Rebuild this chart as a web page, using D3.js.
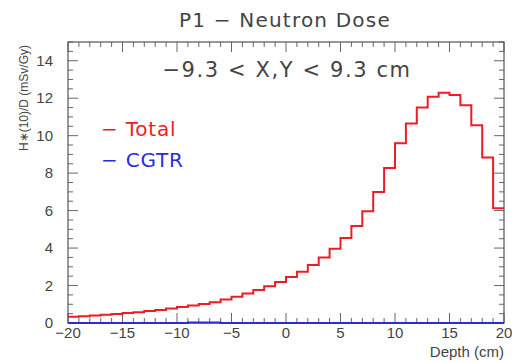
<!DOCTYPE html>
<html>
<head>
<meta charset="utf-8">
<script src="https://cdn.jsdelivr.net/npm/d3@7"></script>
<style>
  body { margin: 0; background: #fff; }
  text { font-family: "Liberation Sans", "DejaVu Sans", sans-serif; fill: #444; }
  .wide { font-family: "DejaVu Sans", sans-serif; }
</style>
</head>
<body>
<div id="chart"></div>
<script>
// bin lower edges (cm), 1 cm wide
const binEdges = d3.range(-20, 20);
const totalDose = [0.33, 0.36, 0.40, 0.44, 0.48, 0.53, 0.58, 0.64, 0.70, 0.77,
                   0.85, 0.93, 1.02, 1.11, 1.25, 1.40, 1.57, 1.76, 1.96, 2.19,
                   2.45, 2.74, 3.09, 3.49, 3.97, 4.54, 5.18, 5.96, 6.99, 8.27,
                   9.59, 10.65, 11.51, 12.08, 12.29, 12.17, 11.63, 10.55, 8.84, 6.12];
const cgtrDose = [0, 0, 0, 0, 0, 0, 0, 0, 0, 0,
                  0, 0.03, 0.03, 0.03, 0, 0, 0, 0, 0, 0,
                  0, 0, 0, 0, 0, 0, 0, 0, 0, 0,
                  0, 0, 0, 0, 0, 0, 0, 0, 0, 0];
const xTicks = [-20, -15, -10, -5, 0, 5, 10, 15, 20];
const yTicks = [0, 2, 4, 6, 8, 10, 12, 14];

const W = 512, H = 363;
const margin = { top: 42, right: 8, bottom: 40, left: 68 };
const width = W - margin.left - margin.right,
      height = H - margin.top - margin.bottom;

const svg = d3.select("#chart").append("svg")
    .attr("width", W)
    .attr("height", H);

const g = svg.append("g")
    .attr("transform", `translate(${margin.left},${margin.top})`);

const xScale = d3.scaleLinear().domain([-20, 20]).range([0, width]);
const yScale = d3.scaleLinear().domain([0, 15]).range([height, 0]);

// histogram outline as step path
function stepLine(values) {
    const pts = [];
    values.forEach((v, i) => {
        pts.push([binEdges[i], v]);
        pts.push([binEdges[i] + 1, v]);
    });
    return d3.line().x(d => xScale(d[0])).y(d => yScale(d[1]))(pts);
}

// ticks, ROOT style (inside frame, both sides)
const tickColor = "#666";
const xMinor = d3.range(-20, 21, 1);
const yMinor = d3.range(0, 15.01, 0.5);

xMinor.forEach(v => {
    const len = v % 5 === 0 ? 10 : 5;
    g.append("line").attr("x1", xScale(v)).attr("x2", xScale(v))
        .attr("y1", height).attr("y2", height - len)
        .attr("stroke", tickColor);
    g.append("line").attr("x1", xScale(v)).attr("x2", xScale(v))
        .attr("y1", 0).attr("y2", len)
        .attr("stroke", tickColor);
});
yMinor.forEach(v => {
    const len = v % 2 === 0 ? 10 : 5;
    g.append("line").attr("y1", yScale(v)).attr("y2", yScale(v))
        .attr("x1", 0).attr("x2", len)
        .attr("stroke", tickColor);
    g.append("line").attr("y1", yScale(v)).attr("y2", yScale(v))
        .attr("x1", width).attr("x2", width - len)
        .attr("stroke", tickColor);
});

g.append("rect")
    .attr("width", width).attr("height", height)
    .attr("fill", "none").attr("stroke", "#555").attr("stroke-width", 1.2);

// tick labels
g.selectAll(".xl").data(xTicks).enter().append("text")
    .attr("x", d => xScale(d)).attr("y", height + 15)
    .attr("text-anchor", "middle").attr("font-size", 15)
    .text(d => d < 0 ? "\u2212" + Math.abs(d) : d);

g.selectAll(".yl").data(yTicks).enter().append("text")
    .attr("x", -15).attr("y", d => yScale(d) + 5)
    .attr("text-anchor", "end").attr("font-size", 15)
    .text(d => d);

// histograms
g.append("path").attr("d", stepLine(totalDose))
    .attr("fill", "none").attr("stroke", "#ee1c24").attr("stroke-width", 2);
g.append("path").attr("d", stepLine(cgtrDose))
    .attr("fill", "none").attr("stroke", "#2b2bdd").attr("stroke-width", 2);

// titles
svg.append("text").attr("class", "wide").attr("x", 285).attr("y", 27)
    .attr("text-anchor", "middle").attr("font-size", 20)
    .attr("letter-spacing", 1.2)
    .text("P1 \u2212 Neutron Dose");

svg.append("text").attr("class", "wide").attr("x", 287).attr("y", 77)
    .attr("text-anchor", "middle").attr("font-size", 21)
    .attr("letter-spacing", 1.6)
    .text("\u22129.3 < X,Y < 9.3 cm");

svg.append("text").attr("x", 504).attr("y", 357)
    .attr("text-anchor", "end").attr("font-size", 15)
    .text("Depth (cm)");

svg.append("text")
    .attr("transform", "translate(28,98) rotate(-90)")
    .attr("text-anchor", "middle").attr("font-size", 12)
    .text("H\u2217(10)/D (mSv/Gy)");

// legend
const legend = [["Total", "#ee1c24"], ["CGTR", "#2b2bdd"]];
legend.forEach((d, i) => {
    svg.append("text").attr("class", "wide").attr("x", 101).attr("y", 136 + i * 31)
        .attr("font-size", 20).attr("letter-spacing", 0.8).style("fill", d[1])
        .text("\u2212 " + d[0]);
});
</script>
</body>
</html>
